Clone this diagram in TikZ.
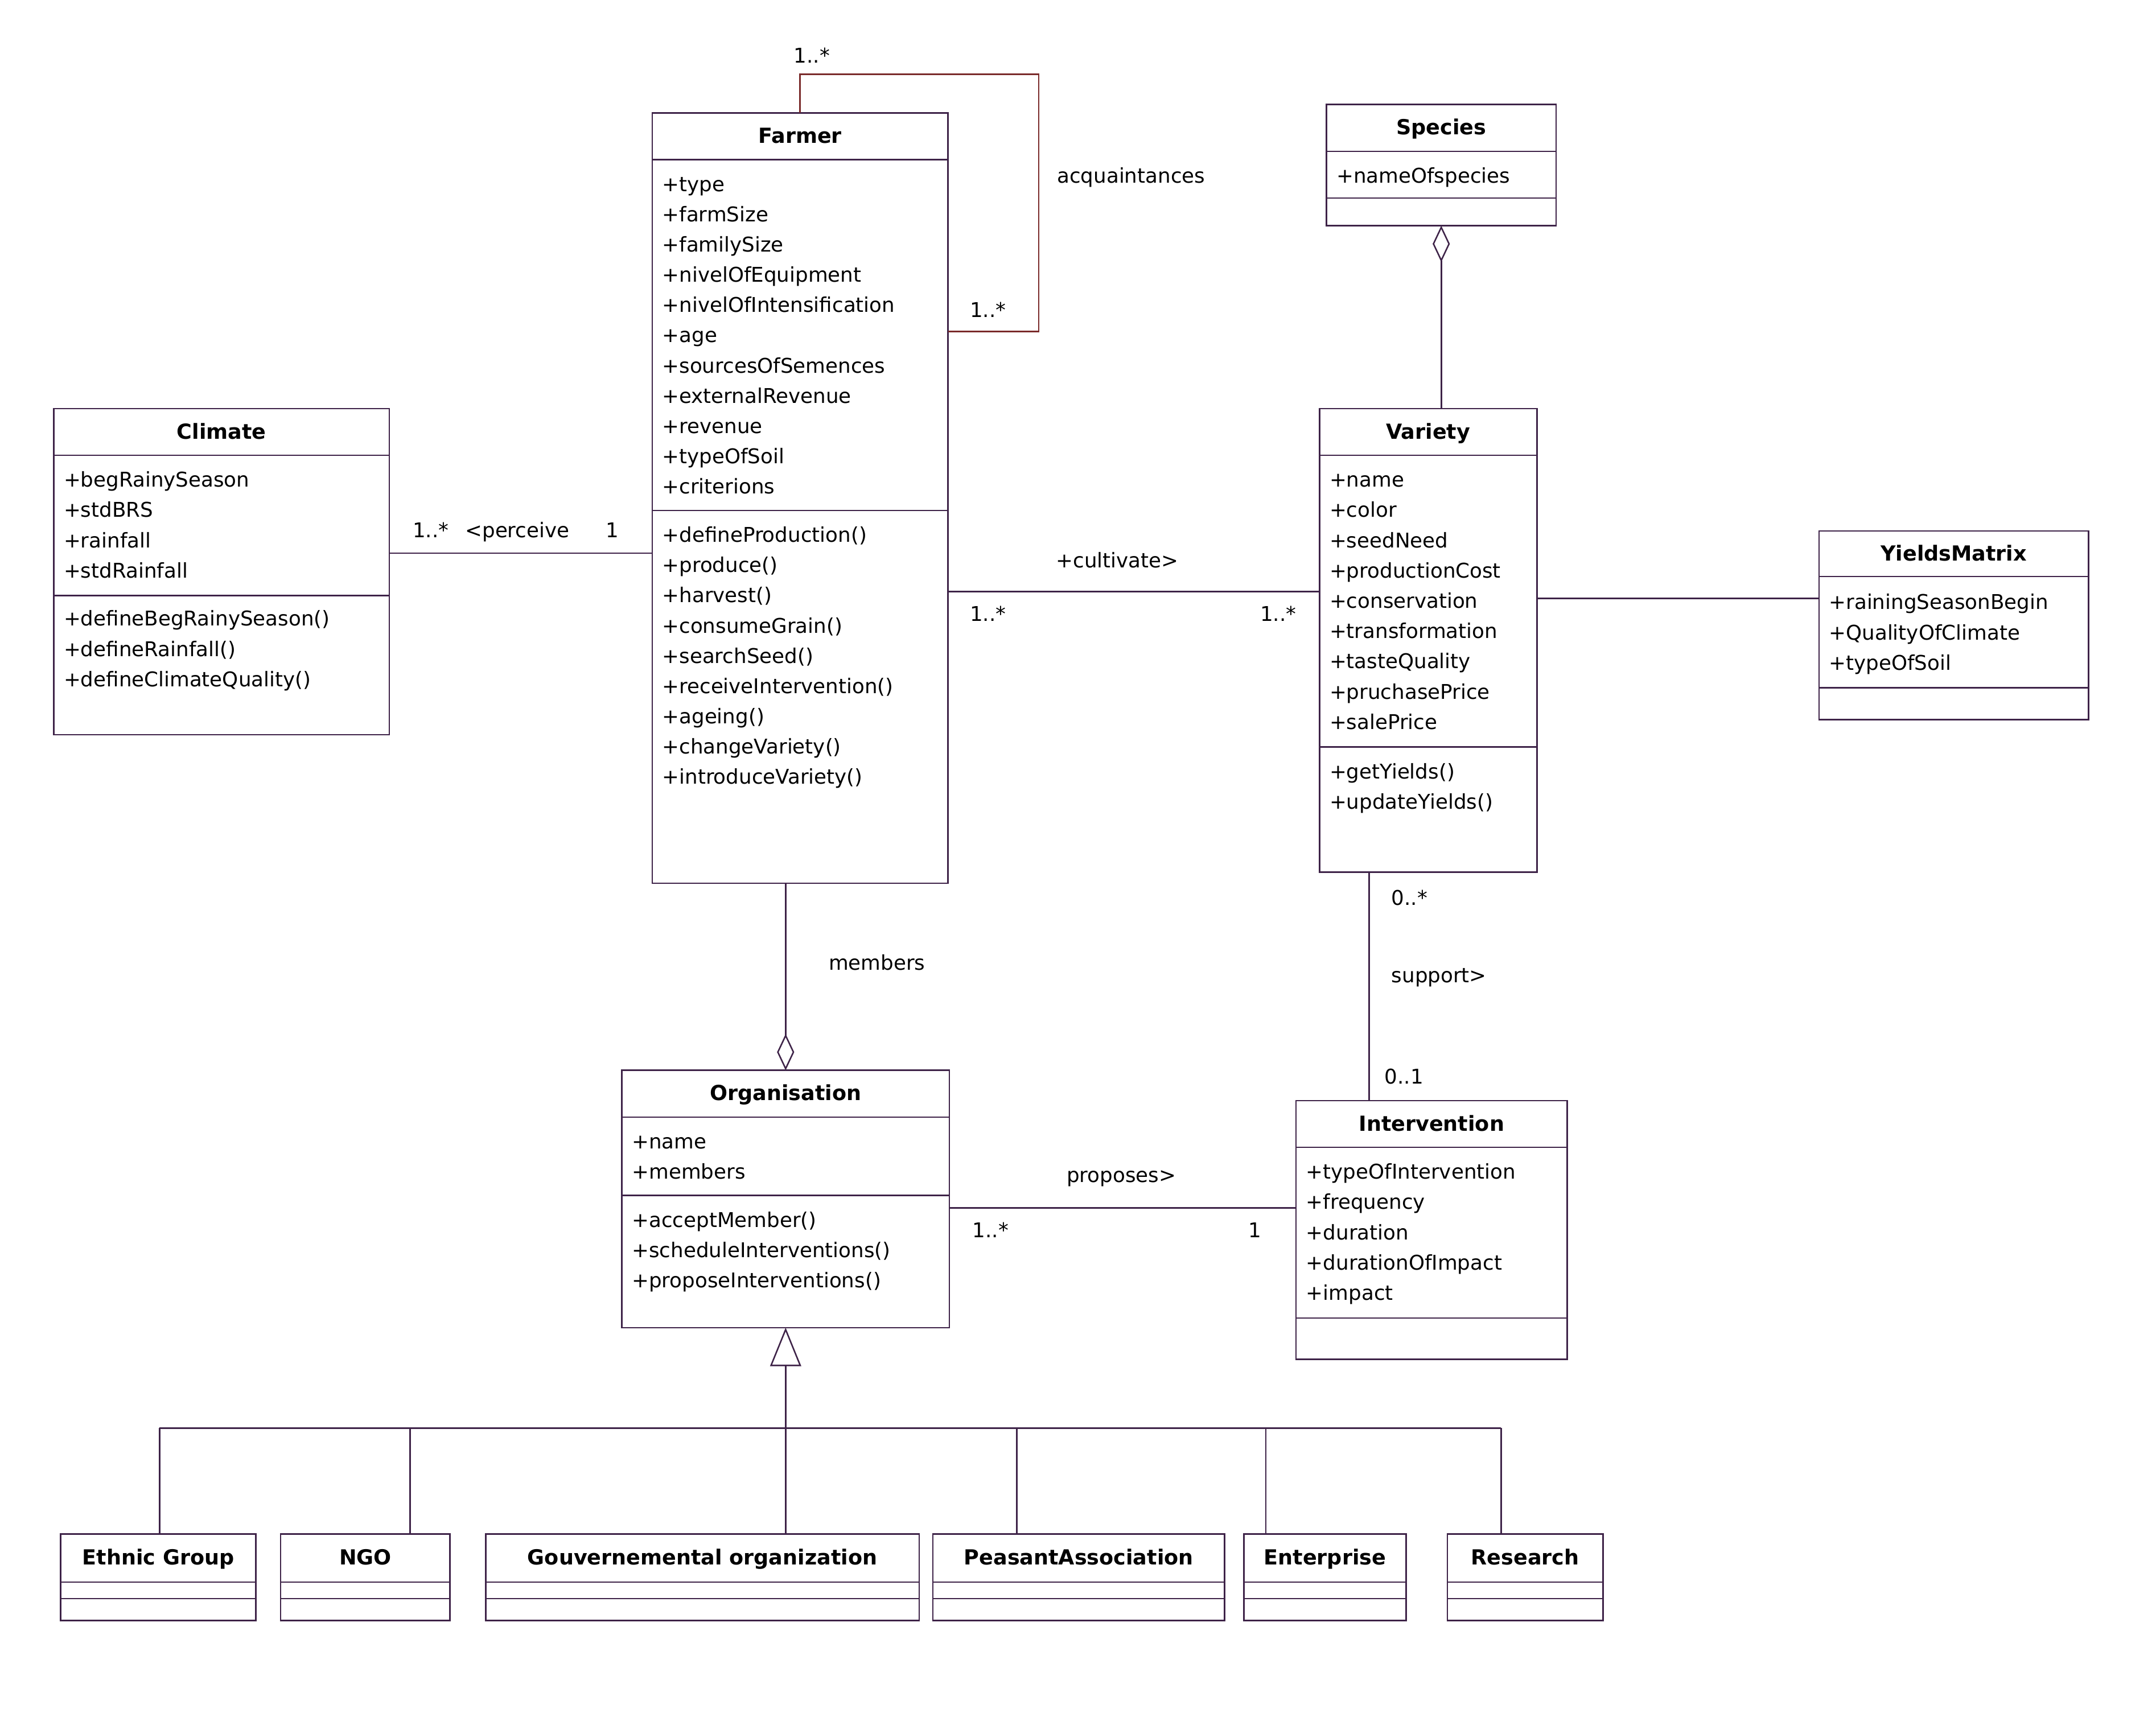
\documentclass[tikz,border=0pt]{standalone}
\usepackage{fontspec}
\setmainfont{DejaVu Sans}
\usetikzlibrary{arrows.meta}
\definecolor{umlline}{RGB}{62,35,72}
\definecolor{loopline}{RGB}{122,42,42}

\begin{document}
\begin{tikzpicture}[x=0.2mm, y=-0.2mm,
    every node/.style={font=\fontsize{8.4pt}{10pt}\selectfont, inner sep=0pt},
    classbox/.style={draw=umlline, line width=0.6pt, anchor=north west, outer sep=0pt},
    sep/.style={draw=umlline, line width=0.6pt},
    assoc/.style={draw=umlline, line width=0.6pt},
    title/.style={anchor=base, font=\fontsize{8.6pt}{10pt}\selectfont\bfseries},
    attr/.style={anchor=base west, yshift=-0.4mm},
    mult/.style={anchor=base, yshift=-0.3mm},
    aggr/.style={-{Diamond[open, length=5.3mm, width=2.5mm]}},
    gen/.style={-{Triangle[open, length=5.6mm, width=4.5mm]}}]
    \useasboundingbox (0,0) rectangle (1567,1245);

    % Farmer
    \node[classbox, minimum width=43mm, minimum height=112mm] (farmer) at (474,82) {};
    \draw[sep] (474,116) -- (689,116);
    \draw[sep] (474,371) -- (689,371);
    \node[title] (farmerT) at (581.5,104) {Farmer};
    \foreach \t [count=\i from 0] in {+type, +farmSize, +familySize, +nivelOfEquipment,
        +nivelOfIntensification, +age, +sourcesOfSemences, +externalRevenue, +revenue,
        +typeOfSoil, +criterions}
        \node[attr] (fa\i) at (481,{137+22*\i}) {\t};
    \foreach \t [count=\i from 0] in {+defineProduction(), +produce(), +harvest(),
        +consumeGrain(), +searchSeed(), +receiveIntervention(), +ageing(),
        +changeVariety(), +introduceVariety()}
        \node[attr] (fo\i) at (481,{392+22*\i}) {\t};

    % Climate
    \node[classbox, minimum width=48.8mm, minimum height=47.4mm] (climate) at (39,297) {};
    \draw[sep] (39,331) -- (283,331);
    \draw[sep] (39,433) -- (283,433);
    \node[title] (climateT) at (161,319) {Climate};
    \foreach \t [count=\i from 0] in {+begRainySeason, +stdBRS, +rainfall, +stdRainfall}
        \node[attr] (ca\i) at (46,{352+22*\i}) {\t};
    \foreach \t [count=\i from 0] in {+defineBegRainySeason(), +defineRainfall(),
        +defineClimateQuality()}
        \node[attr] (co\i) at (46,{453+22*\i}) {\t};

    % Species
    \node[classbox, minimum width=33.4mm, minimum height=17.6mm] (species) at (964,76) {};
    \draw[sep] (964,110) -- (1131,110);
    \draw[sep] (964,144) -- (1131,144);
    \node[title] (speciesT) at (1047.5,98) {Species};
    \node[attr] (sa0) at (971,131) {+nameOfspecies};

    % Variety
    \node[classbox, minimum width=31.6mm, minimum height=67.4mm] (variety) at (959,297) {};
    \draw[sep] (959,331) -- (1117,331);
    \draw[sep] (959,543) -- (1117,543);
    \node[title] (varietyT) at (1038,319) {Variety};
    \foreach \t [count=\i from 0] in {+name, +color, +seedNeed, +productionCost,
        +conservation, +transformation, +tasteQuality, +pruchasePrice, +salePrice}
        \node[attr] (va\i) at (966,{352+22*\i}) {\t};
    \foreach \t [count=\i from 0] in {+getYields(), +updateYields()}
        \node[attr] (vo\i) at (966,{564+22*\i}) {\t};

    % YieldsMatrix
    \node[classbox, minimum width=39.2mm, minimum height=27.4mm] (yields) at (1322,386) {};
    \draw[sep] (1322,419) -- (1518,419);
    \draw[sep] (1322,500) -- (1518,500);
    \node[title] (yieldsT) at (1420,407.5) {YieldsMatrix};
    \foreach \t [count=\i from 0] in {+rainingSeasonBegin, +QualityOfClimate, +typeOfSoil}
        \node[attr] (ya\i) at (1329,{441+22*\i}) {\t};

    % Organisation
    \node[classbox, minimum width=47.6mm, minimum height=37.4mm] (org) at (452,778) {};
    \draw[sep] (452,812) -- (690,812);
    \draw[sep] (452,869) -- (690,869);
    \node[title] (orgT) at (571,800) {Organisation};
    \foreach \t [count=\i from 0] in {+name, +members}
        \node[attr] (oa\i) at (459,{833+22*\i}) {\t};
    \foreach \t [count=\i from 0] in {+acceptMember(), +scheduleInterventions(),
        +proposeInterventions()}
        \node[attr] (oo\i) at (459,{890+22*\i}) {\t};

    % Intervention
    \node[classbox, minimum width=39.4mm, minimum height=37.6mm] (interv) at (942,800) {};
    \draw[sep] (942,834) -- (1139,834);
    \draw[sep] (942,958) -- (1139,958);
    \node[title] (intervT) at (1040.5,822) {Intervention};
    \foreach \t [count=\i from 0] in {+typeOfIntervention, +frequency, +duration,
        +durationOfImpact, +impact}
        \node[attr] (ia\i) at (949,{855+22*\i}) {\t};

    % sub classes of Organisation
    \node[classbox, minimum width=28.4mm, minimum height=12.6mm] (ethnic) at (44,1115) {};
    \node[classbox, minimum width=24.6mm, minimum height=12.6mm] (ngo) at (204,1115) {};
    \node[classbox, minimum width=63mm, minimum height=12.6mm] (gouv) at (353,1115) {};
    \node[classbox, minimum width=42.4mm, minimum height=12.6mm] (peasant) at (678,1115) {};
    \node[classbox, minimum width=23.6mm, minimum height=12.6mm] (enterprise) at (904,1115) {};
    \node[classbox, minimum width=22.6mm, minimum height=12.6mm] (research) at (1052,1115) {};
    \foreach \a/\b in {44/186, 204/327, 353/668, 678/890, 904/1022, 1052/1165} {
        \draw[sep] (\a,1150) -- (\b,1150);
        \draw[sep] (\a,1162) -- (\b,1162);
    }
    \node[title] (ethnicT) at (115,1137.5) {Ethnic Group};
    \node[title] (ngoT) at (265.5,1137.5) {NGO};
    \node[title] (gouvT) at (510.5,1137.5) {Gouvernemental organization};
    \node[title] (peasantT) at (784,1137.5) {PeasantAssociation};
    \node[title] (enterpriseT) at (963,1137.5) {Enterprise};
    \node[title] (researchT) at (1108.5,1137.5) {Research};

    % acquaintances (self association)
    \coordinate (acqtop) at (755,54);
    \coordinate (acqbot) at (755,241);
    \draw[line width=0.6pt, loopline] (farmer.north) |- (acqtop) -- (acqbot) -- (acqbot -| farmer.east);
    \node[mult] (acq1) at (590,44) {1..*};
    \node[mult] (acq2) at (718,229) {1..*};
    \node[attr] (acqL) at (768,131) {acquaintances};

    % perceive
    \coordinate (yperc) at (0,402);
    \draw[assoc] (climate.east |- yperc) -- (farmer.west |- yperc);
    \node[mult] (perc1) at (313,389) {1..*};
    \node[mult] (percL) at (376,389) {<perceive};
    \node[mult] (perc2) at (445,389) {1};

    % cultivate
    \coordinate (ycult) at (0,430);
    \draw[assoc] (farmer.east |- ycult) -- (variety.west |- ycult);
    \node[mult] (cultL) at (812,411) {+cultivate>};
    \node[mult] (cult1) at (718,450) {1..*};
    \node[mult] (cult2) at (929,450) {1..*};

    % Variety - YieldsMatrix
    \coordinate (yyield) at (0,435);
    \draw[assoc] (variety.east |- yyield) -- (yields.west |- yyield);

    % Species - Variety
    \draw[assoc, aggr] (species.south |- variety.north) -- (species.south);

    % members
    \draw[assoc, aggr] (farmer.south -| org.north) -- (org.north);
    \node[attr] (membL) at (602,703) {members};

    % support
    \coordinate (xsup) at (995,0);
    \draw[assoc] (variety.south -| xsup) -- (interv.north -| xsup);
    \node[attr] (sup1) at (1011,656) {0..*};
    \node[attr] (supL) at (1011,712) {support>};
    \node[attr] (sup2) at (1006,786) {0..1};

    % proposes
    \coordinate (yprop) at (0,878);
    \draw[assoc] (org.east |- yprop) -- (interv.west |- yprop);
    \node[mult] (propL) at (815,858) {proposes>};
    \node[mult] (prop1) at (720,898) {1..*};
    \node[mult] (prop2) at (912,898) {1};

    % generalisation
    \coordinate (bus) at (0,1038);
    \coordinate (dEth) at (116,1038);
    \coordinate (dNgo) at (298,1038);
    \coordinate (dPea) at (739,1038);
    \coordinate (dEnt) at (920,1038);
    \coordinate (dRes) at (1091,1038);
    \draw[assoc, gen] (org.south |- bus) -- (org.south);
    \draw[assoc] (dEth) -- (dRes);
    \draw[assoc] (dEth) -- (dEth |- ethnic.north);
    \draw[assoc] (dNgo) -- (dNgo |- ngo.north);
    \draw[assoc] (org.south |- bus) -- (org.south |- gouv.north);
    \draw[assoc] (dPea) -- (dPea |- peasant.north);
    \draw[assoc] (dEnt) -- (dEnt |- enterprise.north);
    \draw[assoc] (dRes) -- (dRes |- research.north);
\end{tikzpicture}
\end{document}
